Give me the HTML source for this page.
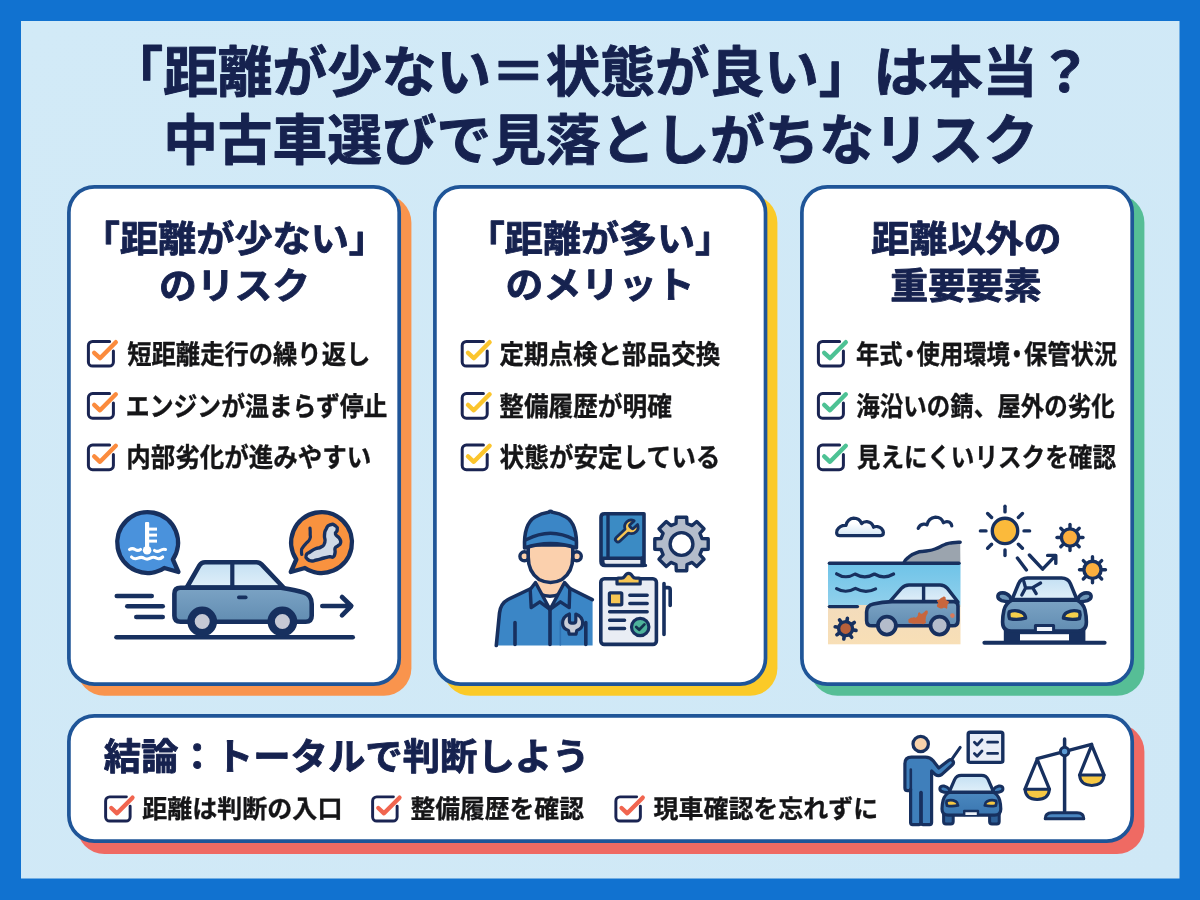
<!DOCTYPE html>
<html lang="ja">
<head>
<meta charset="utf-8">
<title>「距離が少ない＝状態が良い」は本当？ 中古車選びで見落としがちなリスク</title>
<style>
html,body{margin:0;padding:0;background:#1172d0;}
body{width:1200px;height:900px;overflow:hidden;}
svg{display:block;will-change:transform;}
text{font-family:"Liberation Sans","Noto Sans CJK JP",sans-serif;text-rendering:geometricPrecision;}
</style>
</head>
<body>
<svg width="1200" height="900" viewBox="0 0 1200 900">
<defs>
<linearGradient id="bg" x1="0" y1="0" x2="1" y2="1">
<stop offset="0" stop-color="#d2eaf7"/><stop offset="1" stop-color="#cfe8f6"/>
</linearGradient>
</defs>
<rect width="1200" height="900" fill="#1172d0"/>
<rect x="21" y="21" width="1158.5" height="857.5" fill="url(#bg)"/>
<g id="cards">
<rect x="77" y="195" width="334.4" height="500.8" rx="27.5" fill="#f9944d"/>
<rect x="68.9" y="186.9" width="330.3" height="497.2" rx="25.5" fill="#fff" stroke="#1f5598" stroke-width="3.7"/>
<rect x="443" y="195" width="334.4" height="500.8" rx="27.5" fill="#fbca28"/>
<rect x="434.9" y="186.9" width="330.6" height="497.2" rx="25.5" fill="#fff" stroke="#1f5598" stroke-width="3.7"/>
<rect x="810" y="195" width="334.4" height="500.8" rx="27.5" fill="#56be96"/>
<rect x="801.9" y="186.9" width="330.3" height="497.2" rx="25.5" fill="#fff" stroke="#1f5598" stroke-width="3.7"/>
<rect x="77" y="724" width="1067.4" height="130" rx="27.5" fill="#ef6a63"/>
<rect x="68.9" y="715.9" width="1063.3" height="125.2" rx="25.5" fill="#fff" stroke="#1f5598" stroke-width="3.7"/>
</g>
<g id="txt">
<text transform="translate(108.58 91.70) scale(0.9889 1)" font-size="55.25" font-weight="700" fill="#16224f" stroke="#16224f" stroke-width="0.94" stroke-linejoin="round">「距離が少ない＝状態が良い」は本当？</text>
<text transform="translate(163.13 159.75) scale(0.9896 1)" font-size="55.25" font-weight="700" fill="#16224f" stroke="#16224f" stroke-width="0.94" stroke-linejoin="round">中古車選びで見落としがちなリスク</text>
<text transform="translate(81.76 252.32) scale(1.0370 1)" font-size="36.80" font-weight="700" fill="#16224f" stroke="#16224f" stroke-width="0.88" stroke-linejoin="round">「距離が少ない」</text>
<text transform="translate(158.91 298.58) scale(1.0271 1)" font-size="36.80" font-weight="700" fill="#16224f" stroke="#16224f" stroke-width="0.88" stroke-linejoin="round">のリスク</text>
<text transform="translate(466.83 252.32) scale(1.0339 1)" font-size="36.80" font-weight="700" fill="#16224f" stroke="#16224f" stroke-width="0.88" stroke-linejoin="round">「距離が多い」</text>
<text transform="translate(505.61 297.70) scale(1.0268 1)" font-size="36.80" font-weight="700" fill="#16224f" stroke="#16224f" stroke-width="0.88" stroke-linejoin="round">のメリット</text>
<text transform="translate(871.32 252.03) scale(1.0335 1)" font-size="36.80" font-weight="700" fill="#16224f" stroke="#16224f" stroke-width="0.88" stroke-linejoin="round">距離以外の</text>
<text transform="translate(890.16 298.58) scale(1.0285 1)" font-size="36.80" font-weight="700" fill="#16224f" stroke="#16224f" stroke-width="0.88" stroke-linejoin="round">重要要素</text>
<text transform="translate(127.26 364.46) scale(0.9000 1)" font-size="27.00" font-weight="700" fill="#151517" stroke="#151517" stroke-width="0.35" stroke-linejoin="round">短距離走行の繰り返し</text>
<text transform="translate(125.83 415.93) scale(0.8824 1)" font-size="27.00" font-weight="700" fill="#151517" stroke="#151517" stroke-width="0.35" stroke-linejoin="round">エンジンが温まらず停止</text>
<text transform="translate(126.34 467.23) scale(0.9070 1)" font-size="27.00" font-weight="700" fill="#151517" stroke="#151517" stroke-width="0.35" stroke-linejoin="round">内部劣化が進みやすい</text>
<text transform="translate(499.51 363.88) scale(0.9082 1)" font-size="27.00" font-weight="700" fill="#151517" stroke="#151517" stroke-width="0.35" stroke-linejoin="round">定期点検と部品交換</text>
<text transform="translate(499.26 416.04) scale(0.9129 1)" font-size="27.00" font-weight="700" fill="#151517" stroke="#151517" stroke-width="0.35" stroke-linejoin="round">整備履歴が明確</text>
<text transform="translate(499.51 467.48) scale(0.9123 1)" font-size="27.00" font-weight="700" fill="#151517" stroke="#151517" stroke-width="0.35" stroke-linejoin="round">状態が安定している</text>
<text transform="translate(856.00 364.01) scale(0.8636 1)" dx="0 0 -5.4 -5.4 0 0 0 -5.4 -5.4 0 0 0" font-size="27.00" font-weight="700" fill="#151517" stroke="#151517" stroke-width="0.35" stroke-linejoin="round">年式・使用環境・保管状況</text>
<text transform="translate(856.23 415.51) scale(0.8702 1)" font-size="27.00" font-weight="700" fill="#151517" stroke="#151517" stroke-width="0.35" stroke-linejoin="round">海沿いの錆、屋外の劣化</text>
<text transform="translate(856.79 467.36) scale(0.8745 1)" font-size="27.00" font-weight="700" fill="#151517" stroke="#151517" stroke-width="0.35" stroke-linejoin="round">見えにくいリスクを確認</text>
<text transform="translate(103.75 769.64) scale(1.0003 1)" font-size="37.37" font-weight="700" fill="#16224f" stroke="#16224f" stroke-width="0.90" stroke-linejoin="round">結論：トータルで判断しよう</text>
<text transform="translate(142.25 817.89) scale(0.9740 1)" font-size="25.70" font-weight="700" fill="#151517" stroke="#151517" stroke-width="0.33" stroke-linejoin="round">距離は判断の入口</text>
<text transform="translate(410.51 817.89) scale(0.9644 1)" font-size="25.70" font-weight="700" fill="#151517" stroke="#151517" stroke-width="0.33" stroke-linejoin="round">整備履歴を確認</text>
<text transform="translate(653.50 817.76) scale(0.9717 1)" font-size="25.70" font-weight="700" fill="#151517" stroke="#151517" stroke-width="0.33" stroke-linejoin="round">現車確認を忘れずに</text>
</g>
<g id="checks">
<g transform="translate(87 340) scale(1.0)" fill="none" stroke-linecap="round" stroke-linejoin="round"><path d="M22.6,1.4H5.6A4.2,4.2 0 0 0 1.4,5.6V21.9A4.2,4.2 0 0 0 5.6,26.1H22.2A4.2,4.2 0 0 0 26.4,21.9V11" stroke="#1a2452" stroke-width="3"/><path d="M7.2,12.8L13,18.2L28.8,2.2" stroke="#fb8b3d" stroke-width="4.4"/></g>
<g transform="translate(87 392.1) scale(1.0)" fill="none" stroke-linecap="round" stroke-linejoin="round"><path d="M22.6,1.4H5.6A4.2,4.2 0 0 0 1.4,5.6V21.9A4.2,4.2 0 0 0 5.6,26.1H22.2A4.2,4.2 0 0 0 26.4,21.9V11" stroke="#1a2452" stroke-width="3"/><path d="M7.2,12.8L13,18.2L28.8,2.2" stroke="#fb8b3d" stroke-width="4.4"/></g>
<g transform="translate(87 443.6) scale(1.0)" fill="none" stroke-linecap="round" stroke-linejoin="round"><path d="M22.6,1.4H5.6A4.2,4.2 0 0 0 1.4,5.6V21.9A4.2,4.2 0 0 0 5.6,26.1H22.2A4.2,4.2 0 0 0 26.4,21.9V11" stroke="#1a2452" stroke-width="3"/><path d="M7.2,12.8L13,18.2L28.8,2.2" stroke="#fb8b3d" stroke-width="4.4"/></g>
<g transform="translate(460.8 340) scale(1.0)" fill="none" stroke-linecap="round" stroke-linejoin="round"><path d="M22.6,1.4H5.6A4.2,4.2 0 0 0 1.4,5.6V21.9A4.2,4.2 0 0 0 5.6,26.1H22.2A4.2,4.2 0 0 0 26.4,21.9V11" stroke="#1a2452" stroke-width="3"/><path d="M7.2,12.8L13,18.2L28.8,2.2" stroke="#fbc52d" stroke-width="4.4"/></g>
<g transform="translate(460.8 392.1) scale(1.0)" fill="none" stroke-linecap="round" stroke-linejoin="round"><path d="M22.6,1.4H5.6A4.2,4.2 0 0 0 1.4,5.6V21.9A4.2,4.2 0 0 0 5.6,26.1H22.2A4.2,4.2 0 0 0 26.4,21.9V11" stroke="#1a2452" stroke-width="3"/><path d="M7.2,12.8L13,18.2L28.8,2.2" stroke="#fbc52d" stroke-width="4.4"/></g>
<g transform="translate(460.8 443.6) scale(1.0)" fill="none" stroke-linecap="round" stroke-linejoin="round"><path d="M22.6,1.4H5.6A4.2,4.2 0 0 0 1.4,5.6V21.9A4.2,4.2 0 0 0 5.6,26.1H22.2A4.2,4.2 0 0 0 26.4,21.9V11" stroke="#1a2452" stroke-width="3"/><path d="M7.2,12.8L13,18.2L28.8,2.2" stroke="#fbc52d" stroke-width="4.4"/></g>
<g transform="translate(817 340) scale(1.0)" fill="none" stroke-linecap="round" stroke-linejoin="round"><path d="M22.6,1.4H5.6A4.2,4.2 0 0 0 1.4,5.6V21.9A4.2,4.2 0 0 0 5.6,26.1H22.2A4.2,4.2 0 0 0 26.4,21.9V11" stroke="#1a2452" stroke-width="3"/><path d="M7.2,12.8L13,18.2L28.8,2.2" stroke="#4dc294" stroke-width="4.4"/></g>
<g transform="translate(817 392.1) scale(1.0)" fill="none" stroke-linecap="round" stroke-linejoin="round"><path d="M22.6,1.4H5.6A4.2,4.2 0 0 0 1.4,5.6V21.9A4.2,4.2 0 0 0 5.6,26.1H22.2A4.2,4.2 0 0 0 26.4,21.9V11" stroke="#1a2452" stroke-width="3"/><path d="M7.2,12.8L13,18.2L28.8,2.2" stroke="#4dc294" stroke-width="4.4"/></g>
<g transform="translate(817 443.6) scale(1.0)" fill="none" stroke-linecap="round" stroke-linejoin="round"><path d="M22.6,1.4H5.6A4.2,4.2 0 0 0 1.4,5.6V21.9A4.2,4.2 0 0 0 5.6,26.1H22.2A4.2,4.2 0 0 0 26.4,21.9V11" stroke="#1a2452" stroke-width="3"/><path d="M7.2,12.8L13,18.2L28.8,2.2" stroke="#4dc294" stroke-width="4.4"/></g>
<g transform="translate(104.25 795.5) scale(0.98)" fill="none" stroke-linecap="round" stroke-linejoin="round"><path d="M22.6,1.4H5.6A4.2,4.2 0 0 0 1.4,5.6V21.9A4.2,4.2 0 0 0 5.6,26.1H22.2A4.2,4.2 0 0 0 26.4,21.9V11" stroke="#1a2452" stroke-width="3"/><path d="M7.2,12.8L13,18.2L28.8,2.2" stroke="#f1654f" stroke-width="4.4"/></g>
<g transform="translate(371.25 795.5) scale(0.98)" fill="none" stroke-linecap="round" stroke-linejoin="round"><path d="M22.6,1.4H5.6A4.2,4.2 0 0 0 1.4,5.6V21.9A4.2,4.2 0 0 0 5.6,26.1H22.2A4.2,4.2 0 0 0 26.4,21.9V11" stroke="#1a2452" stroke-width="3"/><path d="M7.2,12.8L13,18.2L28.8,2.2" stroke="#f1654f" stroke-width="4.4"/></g>
<g transform="translate(614.5 795.5) scale(0.98)" fill="none" stroke-linecap="round" stroke-linejoin="round"><path d="M22.6,1.4H5.6A4.2,4.2 0 0 0 1.4,5.6V21.9A4.2,4.2 0 0 0 5.6,26.1H22.2A4.2,4.2 0 0 0 26.4,21.9V11" stroke="#1a2452" stroke-width="3"/><path d="M7.2,12.8L13,18.2L28.8,2.2" stroke="#f1654f" stroke-width="4.4"/></g>
</g>
<g id="ill1" stroke-linecap="round" stroke-linejoin="round">
<defs><linearGradient id="carb" x1="0" y1="0" x2="0" y2="1"><stop offset="0" stop-color="#7ba3c4"/><stop offset="1" stop-color="#628db2"/></linearGradient><linearGradient id="win" x1="0" y1="0" x2="0" y2="1"><stop offset="0" stop-color="#c4e0f3"/><stop offset="1" stop-color="#e0eff9"/></linearGradient></defs>
<g fill="none" stroke="#17305f" stroke-width="4.6"><path d="M116.5,637.3H352.7"/><path d="M116.8,596H151.7"/><path d="M127.3,606.2H162.7"/><path d="M136.3,617H162.7"/><path d="M322.3,606H350.5M342,597L351.3,606L342,615.3"/></g>
<path d="M178.4,572L172.9,559.5A30.4,30.4 0 1 0 164.3,568.0Z" fill="#4a92dc" stroke="#17305f" stroke-width="4.4"/>
<g fill="#fff" stroke="none"><rect x="145" y="522" width="4.2" height="26" rx="1"/><circle cx="147.1" cy="550.3" r="4.3"/><rect x="148" y="527.6" width="9" height="3"/><rect x="148" y="533.6" width="9" height="3"/><rect x="148" y="539.6" width="9" height="3"/></g>
<g fill="none" stroke="#fff" stroke-width="3.1"><path d="M129.5,549.5q2.8,-1.8 5.6,0t5.4,0"/><path d="M154.5,550.5q2.8,1.8 5.6,0t5.4,-1"/><path d="M131.5,557q2.8,2.8 6.4,1.2t6.2,0q3,1.8 6.2,0t6.2,0q3,1.6 6.2,-1.2"/></g>
<path d="M290.8,572L296.3,559.5A30.4,30.4 0 1 1 304.9,568.0Z" fill="#f9923f" stroke="#17305f" stroke-width="4.4"/>
<path d="M330.0,524.8C333.1,523.7 333.1,524.1 335.5,525.8C337.9,527.5 337.2,527.3 337.2,530.0C337.2,532.7 334.7,531.2 335.5,534.0C336.3,536.8 337.8,535.5 339.5,538.5C341.2,541.5 341.0,540.6 340.5,543.0C340.0,545.4 339.8,544.1 338.0,545.8C336.2,547.5 336.2,545.6 335.2,548.0C334.2,550.4 335.7,550.1 335.0,553.0C334.3,555.9 335.0,555.5 333.2,556.8C331.4,558.1 332.6,556.4 329.5,556.8C326.4,557.2 328.3,556.9 324.0,558.0C319.7,559.1 320.5,559.0 316.5,560.0C312.5,561.0 315.0,561.3 312.0,561.0C309.0,560.7 309.4,561.1 307.5,559.2C305.6,557.3 305.4,557.6 306.2,555.2C307.0,552.8 306.9,554.1 310.0,552.0C313.1,549.9 311.8,550.5 315.5,548.8C319.2,547.1 317.9,549.1 321.0,547.0C324.1,544.9 323.6,546.5 324.8,542.5C326.0,538.5 324.0,539.5 324.5,535.0C325.0,530.5 324.4,532.4 326.2,529.0C328.0,525.6 326.9,525.9 330.0,524.8Z" fill="#cfd9e6" stroke="#17305f" stroke-width="3.4"/>
<path d="M310.0,528.2C310.1,530.1 310.3,530.4 310.2,534.0C310.1,537.6 311.1,535.9 309.8,539.0C308.5,542.1 308.6,540.3 306.2,543.2C303.8,546.1 304.1,545.2 302.5,547.8C300.9,550.4 301.7,548.8 301.5,551.0C301.3,553.2 301.7,553.3 301.8,554.5" fill="none" stroke="#17305f" stroke-width="3.2"/>
<path d="M186.8,587.5L199.6,565.2Q201.5,562.2 205,562.2H256.5Q259.6,562.2 261.8,564.6L283.5,587.5Z" fill="url(#win)" stroke="#17305f" stroke-width="4.6"/>
<path d="M180.5,587.7H281Q297,590.3 304,592.6Q311.7,595.2 311.7,604V615.7Q311.7,621.7 305.7,621.7H180.5Q174.4,621.7 174.4,615.7V593.7Q174.4,587.7 180.5,587.7Z" fill="url(#carb)" stroke="#17305f" stroke-width="4.6"/>
<path d="M232.3,562.5V587" stroke="#17305f" stroke-width="4.2" fill="none"/>
<rect x="237" y="595.6" width="10.6" height="3.6" rx="1.8" fill="#17305f"/>
<circle cx="202.2" cy="621.5" r="11.2" fill="#c6c9d5" stroke="#17305f" stroke-width="7.4"/>
<circle cx="282.4" cy="621.5" r="11.2" fill="#c6c9d5" stroke="#17305f" stroke-width="7.4"/>
</g>
<g id="ill2" stroke-linecap="round" stroke-linejoin="round">
<path d="M496.3,645.5L499.5,613Q500.5,603.5 508,599.5L531,588.5L550,596L568,587.5L592.6,599.8V645.5Z" fill="#3b86c6"/>
<path d="M496.3,645.5L499.5,613Q500.5,603.5 508,599.5L531,588.5M568,587.5L592.3,599.6" fill="none" stroke="#17305f" stroke-width="3.6"/>
<path d="M538,578L537,589L550,606L563,589L562,578Z" fill="#fbd0ad"/>
<path d="M544.5,597.5H555.5L550,606Z" fill="#fff"/>
<path d="M540,594Q550,598.5 560,594" fill="none" stroke="#17305f" stroke-width="3.4"/>
<path d="M535.5,582.5L530.2,589.5L531.2,607.6L539.8,601.8L550,609.5Z" fill="#3b86c6" stroke="#17305f" stroke-width="3.4"/>
<path d="M564.5,582.5L569.8,588.5L569.2,607.6L560.4,601.8L550,609.5Z" fill="#3b86c6" stroke="#17305f" stroke-width="3.4"/>
<path d="M550,610V644.5M515,622.5V644.5M585.8,622.5V644.5" fill="none" stroke="#17305f" stroke-width="3.6"/>
<path d="M560.3,621V645" fill="none" stroke="#2f72b3" stroke-width="1.6"/>
<path d="M569.4,614V620.8Q569.4,623.2 571.8,623.2H573.4Q575.8,623.2 575.8,620.8V614Q582.6,616.6 582.6,623.2Q582.6,628.4 576.8,630.4L576,634.2H569.2L568.4,630.4Q562.6,628.4 562.6,623.2Q562.6,616.6 569.4,614Z" fill="#c9ced9" stroke="#17305f" stroke-width="3.2"/>
<circle cx="524.4" cy="556.3" r="4.5" fill="#fbd0ad" stroke="#17305f" stroke-width="3.4"/>
<circle cx="576.8" cy="556.3" r="4.5" fill="#fbd0ad" stroke="#17305f" stroke-width="3.4"/>
<path d="M528.2,545V557Q528.2,572 539,579.5Q550.5,585.5 562,579.5Q572.8,572 572.8,557V545Z" fill="#fbd0ad" stroke="#17305f" stroke-width="3.6"/>
<path d="M524.6,548Q523.5,524 535,517Q541.5,513.3 548.5,512.3Q550.5,510.6 552.5,512.3Q559.5,513.3 566,517Q577.5,524 576.4,548Q564,543.6 550.5,543.6Q537,543.6 524.6,548Z" fill="#3b86c6" stroke="#17305f" stroke-width="3.6"/>
<path d="M526.6,539.6Q550.5,527 574.4,539.6" fill="none" stroke="#17305f" stroke-width="3.4"/>
<path d="M604.5,513.7H644V565.4H605Q601,565.4 601,561.4V517.2Q601,513.7 604.5,513.7Z" fill="#3b8bc4" stroke="#17305f" stroke-width="3.6"/>
<path d="M602.8,558.2H642.2V565.4H606Q602.8,565.4 602.8,561.8Z" fill="#e6eaf1" stroke="#17305f" stroke-width="3.4"/>
<path d="M608,514.5V557" fill="none" stroke="#17305f" stroke-width="3.4"/>
<path d="M642.3,558V565.4L645.5,565.4" fill="none" stroke="#17305f" stroke-width="3.4"/>
<g transform="translate(624.6 533.2) rotate(47)"><path d="M-2.6,9V-3Q-6.8,-5 -6.8,-9.4Q-6.8,-13.8 -2.5,-15.4V-10Q-2.5,-8.4 -0.9,-8.4H0.9Q2.5,-8.4 2.5,-10V-15.4Q6.8,-13.8 6.8,-9.4Q6.8,-5 2.6,-3V9Q2.6,11.6 0,11.6Q-2.6,11.6 -2.6,9Z" fill="#f7c653" stroke="#17305f" stroke-width="2.8"/></g>
<path d="M676.0,523.5L676.3,517.3L686.7,517.3L687.0,523.5L692.1,525.6L696.7,521.5L704.0,528.8L699.9,533.4L702.0,538.5L708.2,538.8L708.2,549.2L702.0,549.5L699.9,554.6L704.0,559.2L696.7,566.5L692.1,562.4L687.0,564.5L686.7,570.7L676.3,570.7L676.0,564.5L670.9,562.4L666.3,566.5L659.0,559.2L663.1,554.6L661.0,549.5L654.8,549.2L654.8,538.8L661.0,538.5L663.1,533.4L659.0,528.8L666.3,521.5L670.9,525.6Z" fill="#b3bccb" stroke="#17305f" stroke-width="3.4" stroke-linejoin="round"/>
<circle cx="681.5" cy="544" r="11.4" fill="#fff" stroke="#17305f" stroke-width="3.4"/>
<rect x="600.8" y="578.8" width="55.6" height="65.6" rx="3.5" fill="#e9edf4" stroke="#17305f" stroke-width="3.6"/>
<path d="M617,584V579.5Q617,578.2 618.4,578.2H621.5Q623.5,578.2 624.6,576.4Q626.2,573.4 628.6,573.4Q631,573.4 632.6,576.4Q633.7,578.2 635.7,578.2H638.8Q640.2,578.2 640.2,579.5V584Z" fill="#f7c653" stroke="#17305f" stroke-width="3.2"/>
<rect x="609.4" y="592.8" width="12.4" height="12" rx="1" fill="#f7c653" stroke="#17305f" stroke-width="3.2"/>
<path d="M629.8,595.3H647.2M629.8,603.5H647.2M609.6,611.8H647.2M609.6,620.3H624.6M609.6,628.5H624.6" fill="none" stroke="#17305f" stroke-width="3.4"/>
<circle cx="640.2" cy="627" r="8.7" fill="#4eb39b" stroke="#17305f" stroke-width="3.2"/>
<path d="M636.2,627L639.2,629.8L644.4,624.4" fill="none" stroke="#14324f" stroke-width="2.8"/>
<path d="M664,583.5V634.5M664,587.6H668Q670.2,587.6 670.2,590V605.5" fill="none" stroke="#17305f" stroke-width="3.6"/>
</g>
<g id="ill3" stroke-linecap="round" stroke-linejoin="round">
<defs><linearGradient id="sea" x1="0" y1="0" x2="0" y2="1"><stop offset="0" stop-color="#6ec3e8"/><stop offset="1" stop-color="#93d1ec"/></linearGradient><linearGradient id="sand" x1="0" y1="0" x2="0" y2="1"><stop offset="0" stop-color="#f3dcbc"/><stop offset="1" stop-color="#f8dfb6"/></linearGradient><linearGradient id="cl" x1="0" y1="0" x2="0" y2="1"><stop offset="0.3" stop-color="#fff"/><stop offset="1" stop-color="#d3e6f4"/></linearGradient></defs>
<path d="M904.0,562.8C905.2,561.2 903.4,561.5 907.5,558.1C911.6,554.8 910.0,555.1 916.2,552.8C922.5,550.4 920.0,552.2 926.2,551.0C932.5,549.8 928.8,551.2 935.0,549.0C941.2,546.8 939.2,546.6 945.0,544.5C950.8,542.4 947.4,543.5 952.5,542.8C957.6,542.0 957.7,542.4 960.2,542.2L960.4,563H904Z" fill="#9ba4ae"/>
<path d="M904.0,562.8C905.2,561.2 903.4,561.5 907.5,558.1C911.6,554.8 910.0,555.1 916.2,552.8C922.5,550.4 920.0,552.2 926.2,551.0C932.5,549.8 928.8,551.2 935.0,549.0C941.2,546.8 939.2,546.6 945.0,544.5C950.8,542.4 947.4,543.5 952.5,542.8C957.6,542.0 957.7,542.4 960.2,542.2" fill="none" stroke="#17305f" stroke-width="3.4"/>
<rect x="828" y="563" width="132.5" height="44" fill="url(#sea)"/>
<rect x="828" y="605" width="132.5" height="39.3" fill="url(#sand)"/>
<rect x="859" y="600" width="101.5" height="9" fill="#93d1ec" opacity="0"/>
<path d="M829.4,563.2H959" fill="none" stroke="#17305f" stroke-width="3.4"/>
<path d="M829.4,606.6H857.4" fill="none" stroke="#17305f" stroke-width="3.4"/>
<path d="M836.6,573.8Q845.6,579.6 855,574Q864.8,579.6 874.4,574Q884,579.6 893.6,574" fill="none" stroke="#17305f" stroke-width="3.2"/>
<path d="M836.6,588.6Q845.6,594 855.4,588.4Q865.6,594 875.6,588.8" fill="none" stroke="#17305f" stroke-width="3.2"/>
<path d="M839.6,535.6H880.6Q883.4,535.6 883.4,532.6Q882.6,527.6 877.6,526.6Q875.4,526.2 873.6,527.2Q872,522.2 867,521.6Q863.6,521.4 861.6,523.6Q859.4,518.2 853.6,518.2Q847.6,518.8 846,525.4Q840,525 837,530.4Q835.6,535.6 839.6,535.6Z" fill="url(#cl)" stroke="#17305f" stroke-width="3.2"/>
<path d="M918.2,528.4Q919.6,524.6 923.6,524.2Q925.4,524 927,525Q928.4,518 935.4,517.2Q941.6,517.2 943.4,522.8Q946.4,520.6 949.4,522.2Q951.6,523.6 951.8,526" fill="none" stroke="#17305f" stroke-width="3.2"/>
<path d="M847.0,620.7L847.4,618.2" stroke="#17305f" stroke-width="3.6" fill="none"/>
<path d="M852.2,624.0L854.3,622.5" stroke="#17305f" stroke-width="3.6" fill="none"/>
<path d="M853.5,630.0L856.0,630.4" stroke="#17305f" stroke-width="3.6" fill="none"/>
<path d="M850.2,635.2L851.7,637.3" stroke="#17305f" stroke-width="3.6" fill="none"/>
<path d="M844.2,636.5L843.8,639.0" stroke="#17305f" stroke-width="3.6" fill="none"/>
<path d="M839.0,633.2L836.9,634.7" stroke="#17305f" stroke-width="3.6" fill="none"/>
<path d="M837.7,627.2L835.2,626.8" stroke="#17305f" stroke-width="3.6" fill="none"/>
<path d="M841.0,622.0L839.5,619.9" stroke="#17305f" stroke-width="3.6" fill="none"/>
<circle cx="845.6" cy="628.6" r="7" fill="#b9603a" stroke="#17305f" stroke-width="3.4"/>
<path d="M889.6,601.8L901.4,588.4Q904.6,585 909,585H940Q944.4,585 947.4,588.4L958,602Z" fill="url(#win)" stroke="#17305f" stroke-width="3.4"/>
<path d="M866.6,612Q866.6,605.6 873.4,604Q882,602 892,601.6H954Q958,601.6 958,606V620.4Q958,625.8 952.6,625.8H872Q866.6,625.8 866.6,620.4Z" fill="url(#carb)" stroke="#17305f" stroke-width="3.6"/>
<path d="M923.6,586V601" fill="none" stroke="#17305f" stroke-width="3.4"/>
<path d="M941.9,597.5C943.8,596.7 943.5,596.0 945.0,596.9C946.5,597.7 945.0,598.3 946.2,600.0C947.5,601.7 948.3,600.2 948.8,601.9C949.2,603.5 948.1,602.8 947.5,605.0C946.9,607.2 947.9,607.6 946.9,608.5C945.8,609.4 946.0,607.8 944.4,607.8C942.7,607.8 943.8,608.5 941.9,608.5C940.0,608.5 940.4,608.7 938.8,607.8C937.1,606.8 937.1,607.2 936.9,605.6C936.7,604.1 938.1,604.8 938.1,603.1C938.1,601.5 936.5,601.9 936.9,600.6C937.3,599.4 937.7,600.4 939.4,599.4C941.0,598.3 940.0,598.3 941.9,597.5Z" fill="#c8663d"/>
<path d="M909.4,618.8C910.9,617.6 910.6,618.1 913.1,617.5C915.6,616.9 915.0,618.5 916.9,616.9C918.8,615.2 917.3,613.5 918.8,612.5C920.2,611.5 919.6,613.8 921.2,613.8C922.9,613.8 922.1,613.5 923.8,612.5C925.4,611.5 924.9,610.6 926.2,610.6C927.6,610.6 927.8,610.6 927.8,612.5C927.8,614.4 927.0,613.8 926.2,616.2C925.5,618.8 926.0,617.6 925.6,620.0C925.2,622.4 927.3,622.2 925.0,623.5C922.7,624.8 922.9,623.7 918.8,623.8C914.6,623.8 915.6,624.0 912.5,623.8C909.4,623.5 910.7,624.0 909.4,623.1C908.0,622.2 908.5,622.5 908.5,621.0C908.5,619.5 907.8,619.9 909.4,618.8Z" fill="#c8663d"/>
<circle cx="952.4" cy="615.6" r="2.3" fill="#d9795a"/>
<circle cx="886.9" cy="625.6" r="9" fill="#b4bccb" stroke="#17305f" stroke-width="3.8"/>
<circle cx="939.5" cy="625.6" r="9" fill="#b4bccb" stroke="#17305f" stroke-width="3.8"/>
<path d="M1024.0,530.9L1029.6,530.9" stroke="#17305f" stroke-width="3.4" fill="none"/>
<path d="M1018.4,544.3L1022.4,548.3" stroke="#17305f" stroke-width="3.4" fill="none"/>
<path d="M1005.0,549.9L1005.0,555.5" stroke="#17305f" stroke-width="3.4" fill="none"/>
<path d="M991.6,544.3L987.6,548.3" stroke="#17305f" stroke-width="3.4" fill="none"/>
<path d="M986.0,530.9L980.4,530.9" stroke="#17305f" stroke-width="3.4" fill="none"/>
<path d="M991.6,517.5L987.6,513.5" stroke="#17305f" stroke-width="3.4" fill="none"/>
<path d="M1005.0,511.9L1005.0,506.3" stroke="#17305f" stroke-width="3.4" fill="none"/>
<path d="M1018.4,517.5L1022.4,513.5" stroke="#17305f" stroke-width="3.4" fill="none"/>
<circle cx="1005" cy="530.9" r="12.7" fill="#fbba3b" stroke="#17305f" stroke-width="3.4"/>
<path d="M1070.0,528.5L1070.0,524.5" stroke="#17305f" stroke-width="3.4" fill="none"/>
<path d="M1076.4,531.1L1079.2,528.3" stroke="#17305f" stroke-width="3.4" fill="none"/>
<path d="M1079.0,537.5L1083.0,537.5" stroke="#17305f" stroke-width="3.4" fill="none"/>
<path d="M1076.4,543.9L1079.2,546.7" stroke="#17305f" stroke-width="3.4" fill="none"/>
<path d="M1070.0,546.5L1070.0,550.5" stroke="#17305f" stroke-width="3.4" fill="none"/>
<path d="M1063.6,543.9L1060.8,546.7" stroke="#17305f" stroke-width="3.4" fill="none"/>
<path d="M1061.0,537.5L1057.0,537.5" stroke="#17305f" stroke-width="3.4" fill="none"/>
<path d="M1063.6,531.1L1060.8,528.3" stroke="#17305f" stroke-width="3.4" fill="none"/>
<circle cx="1070" cy="537.5" r="8.6" fill="#fbae3e" stroke="#17305f" stroke-width="3.4"/>
<path d="M1092.5,560.8L1092.5,556.8" stroke="#17305f" stroke-width="3.4" fill="none"/>
<path d="M1098.9,563.4L1101.7,560.6" stroke="#17305f" stroke-width="3.4" fill="none"/>
<path d="M1101.5,569.8L1105.5,569.8" stroke="#17305f" stroke-width="3.4" fill="none"/>
<path d="M1098.9,576.2L1101.7,579.0" stroke="#17305f" stroke-width="3.4" fill="none"/>
<path d="M1092.5,578.8L1092.5,582.8" stroke="#17305f" stroke-width="3.4" fill="none"/>
<path d="M1086.1,576.2L1083.3,579.0" stroke="#17305f" stroke-width="3.4" fill="none"/>
<path d="M1083.5,569.8L1079.5,569.8" stroke="#17305f" stroke-width="3.4" fill="none"/>
<path d="M1086.1,563.4L1083.3,560.6" stroke="#17305f" stroke-width="3.4" fill="none"/>
<circle cx="1092.5" cy="569.8" r="8.6" fill="#fbae3e" stroke="#17305f" stroke-width="3.4"/>
<path d="M1017.4,558L1026.4,570M1029.4,555L1042.6,569.2L1055.6,555.6M1047.6,555.4H1055.8V563.4" fill="none" stroke="#17305f" stroke-width="3.4"/>
<path d="M984.4,642.8H1104.6" fill="none" stroke="#17305f" stroke-width="4"/>
<rect x="1003.8" y="628" width="15.6" height="13.4" fill="#17305f"/><rect x="1069.6" y="628" width="15.8" height="13.4" fill="#17305f"/>
<rect x="1018" y="629" width="53" height="12.4" fill="#17305f"/>
<rect x="1020" y="634.2" width="49" height="6.2" fill="#fff"/>
<path d="M1011.6,601.6Q1005,601.8 1001.6,600.6Q997.6,599 997.8,596Q998.2,592.8 1002.6,592.8Q1007,593 1010,596.6Z" fill="#6f97b9" stroke="#17305f" stroke-width="3.4"/>
<path d="M1077.4,601.6Q1084,601.8 1087.4,600.6Q1091.4,599 1091.2,596Q1090.8,592.8 1086.4,592.8Q1082,593 1079,596.6Z" fill="#6f97b9" stroke="#17305f" stroke-width="3.4"/>
<path d="M1012,600.2H1077Q1083,603 1085,610Q1086.4,616 1086.4,622Q1086.4,631 1078,631H1011Q1002.6,631 1002.6,622Q1002.6,616 1004,610Q1006,603 1012,600.2Z" fill="url(#carb)" stroke="#17305f" stroke-width="3.6"/>
<path d="M1012,599.6L1018.6,583.6Q1021,578 1027.4,578H1061.6Q1068,578 1070.4,583.6L1077,599.6Z" fill="url(#win)" stroke="#17305f" stroke-width="3.6"/>
<path d="M1023.8,581.4L1025.6,588L1021.8,595M1025.6,588L1032.6,587.6L1040.6,583M1032.6,587.6L1036.2,593.6" fill="none" stroke="#17305f" stroke-width="3.3"/>
<path d="M1009.4,611.6Q1016,609.4 1022,612.4Q1025.4,614.4 1025.6,618.2Q1017,620.4 1009.6,618.6Q1008.2,615 1009.4,611.6Z" fill="#f6cf4c" stroke="#17305f" stroke-width="3.4"/>
<path d="M1079.6,611.6Q1073,609.4 1067,612.4Q1063.6,614.4 1063.4,618.2Q1072,620.4 1079.4,618.6Q1080.8,615 1079.6,611.6Z" fill="#f6cf4c" stroke="#17305f" stroke-width="3.4"/>
<path d="M1035.4,631V625.6H1053.6V631" fill="#eef3f9" stroke="#17305f" stroke-width="3"/>
</g>
<g id="ill4" stroke-linecap="round" stroke-linejoin="round">
<defs><linearGradient id="carb2" x1="0" y1="0" x2="0" y2="1"><stop offset="0" stop-color="#4b88bf"/><stop offset="1" stop-color="#3a76b0"/></linearGradient></defs>
<path d="M951.6,759.6L960.2,747.4" fill="none" stroke="#17305f" stroke-width="3"/>
<path d="M911.5,757.2H925.5Q930,757.2 933,760.6L938.8,768L948.6,760.4Q951,758.6 952.8,760.8Q954.4,763 952.2,765L941.6,774.6Q938.4,776.8 935.4,774.6L931.6,771V822.6Q931.6,824.6 929.6,824.6H923.2Q921.2,824.6 921.2,822.6V792.6H920.8V822.6Q920.8,824.6 918.8,824.6H912.6Q910.6,824.6 910.6,822.6V789Q910.6,790.6 907.6,790.6Q904.9,790.6 904.9,788V763.8Q904.9,757.2 911.5,757.2Z" fill="#3f7fbb" stroke="#17305f" stroke-width="3.2"/>
<path d="M910.8,769.5V790M921,792V823" fill="none" stroke="#17305f" stroke-width="2.6"/>
<circle cx="920.7" cy="744" r="7.7" fill="#f8d2ab" stroke="#17305f" stroke-width="3.2"/>
<rect x="968.2" y="732.2" width="34.6" height="30.2" rx="2" fill="#e9eef7" stroke="#17305f" stroke-width="3.4"/>
<path d="M974.4,742.2L977.2,745L982,739.8M974.4,753.4L977.2,756.2L982,751M987.6,742.2H997.6M987.6,753.4H997.6" fill="none" stroke="#17305f" stroke-width="2.8"/>
<rect x="943.6" y="812" width="9.6" height="12" rx="2.4" fill="#2d5f97" stroke="#17305f" stroke-width="3"/><rect x="989.6" y="812" width="9.6" height="12" rx="2.4" fill="#2d5f97" stroke="#17305f" stroke-width="3"/>
<path d="M949,792.4Q944,792.6 941.6,791.4Q939.4,790 940,787.8Q940.8,785.6 944,786Q947.4,786.6 949.6,789.6Z" fill="#3f7fbb" stroke="#17305f" stroke-width="3"/>
<path d="M993.8,792.4Q998.8,792.6 1001.2,791.4Q1003.4,790 1002.8,787.8Q1002,785.6 998.8,786Q995.4,786.6 993.2,789.6Z" fill="#3f7fbb" stroke="#17305f" stroke-width="3"/>
<path d="M949.4,792.4H993.4Q998,794.6 999.6,800Q1000.8,804.6 1000.8,809Q1000.8,815.2 994.6,815.2H948.2Q942,815.2 942,809Q942,804.6 943.2,800Q944.8,794.6 949.4,792.4Z" fill="url(#carb2)" stroke="#17305f" stroke-width="3.2"/>
<path d="M949.2,792L954.6,779.6Q956.6,775.4 961.2,775.4H981.6Q986.2,775.4 988.2,779.6L993.6,792Z" fill="url(#win)" stroke="#17305f" stroke-width="3.2"/>
<path d="M946.8,800.8Q951.6,799.2 955.8,801.4Q958,802.8 958,805.4Q952,806.8 947,805.6Q946,803.2 946.8,800.8Z" fill="#f7c843" stroke="#17305f" stroke-width="2.8"/>
<path d="M996,800.8Q991.2,799.2 987,801.4Q984.8,802.8 984.8,805.4Q990.8,806.8 995.8,805.6Q996.8,803.2 996,800.8Z" fill="#f7c843" stroke="#17305f" stroke-width="2.8"/>
<path d="M964.2,815V811H978V815" fill="#eef3f9" stroke="#17305f" stroke-width="2.4"/>
<path d="M1064.6,739V811.5M1037.2,758.6L1091.6,744.4" fill="none" stroke="#17305f" stroke-width="3.5"/>
<circle cx="1064.6" cy="751.5" r="4.2" fill="#5b9bd5" stroke="#17305f" stroke-width="3"/>
<path d="M1025,789.2Q1025.6,799.4 1037.2,799.6Q1048.8,799.4 1049.4,789.2Z" fill="#f7c843" stroke="#17305f" stroke-width="3"/>
<path d="M1025,789.2L1037.2,759.4L1049.4,789.2" fill="none" stroke="#17305f" stroke-width="3.3"/>
<path d="M1079.6,775Q1080.2,785.2 1091.8,785.4Q1103.4,785.2 1104,775Z" fill="#f7c843" stroke="#17305f" stroke-width="3"/>
<path d="M1079.6,775L1091.7,745.2L1104,775" fill="none" stroke="#17305f" stroke-width="3.3"/>
<path d="M1045.2,818.8Q1045.2,812.8 1052,812.8H1077Q1083.8,812.8 1083.8,818.8Z" fill="#4a86c0" stroke="#17305f" stroke-width="3"/>
</g>
</svg>
</body>
</html>
